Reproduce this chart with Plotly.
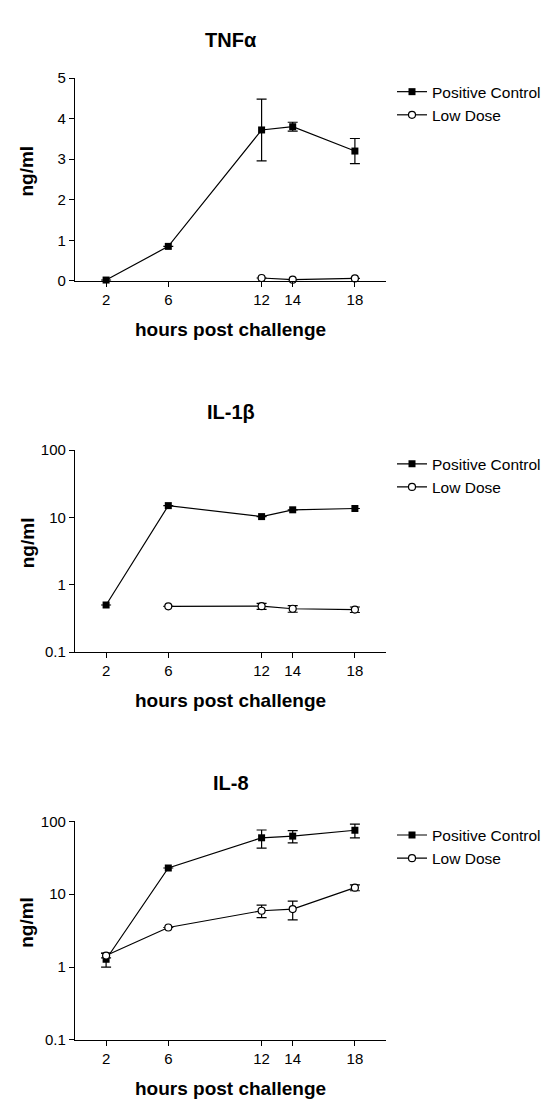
import plotly.graph_objects as go

# ---------------- data ----------------
hours_ticks = [2, 6, 12, 14, 18]

tnf_pc_x = [2, 6, 12, 14, 18]
tnf_pc_y = [0.02, 0.85, 3.72, 3.80, 3.20]
tnf_pc_err = [0.0, 0.0, 0.76, 0.11, 0.31]
tnf_ld_x = [12, 14, 18]
tnf_ld_y = [0.07, 0.03, 0.06]
tnf_ld_err = [0.0, 0.0, 0.0]

il1_pc_x = [2, 6, 12, 14, 18]
il1_pc_y = [0.50, 15.0, 10.3, 13.0, 13.6]
il1_pc_err = [0.0, 0.0, 0.0, 0.0, 0.0]
il1_ld_x = [6, 12, 14, 18]
il1_ld_y = [0.477, 0.48, 0.44, 0.427]
il1_ld_err = [0.0, 0.05, 0.05, 0.04]

il8_pc_x = [2, 6, 12, 14, 18]
il8_pc_y = [1.28, 22.9, 59.5, 62.7, 75.5]
il8_pc_err = [0.28, 0.0, 16.6, 12.0, 16.0]
il8_ld_x = [2, 6, 12, 14, 18]
il8_ld_y = [1.44, 3.49, 5.93, 6.25, 12.3]
il8_ld_err = [0.1, 0.0, 1.15, 1.8, 1.15]

titles = ["TNFα", "IL-1β", "IL-8"]
series_names = ["Positive Control", "Low Dose"]
y_title = "ng/ml"
x_title = "hours post challenge"

# ---------------- layout helpers ----------------
W, H = 551, 1099
FONT = "Liberation Sans, Arial, sans-serif"

def py(p):  # pixel from top -> paper y
    return 1 - p / H

def px(p):
    return p / W

x_left, x_right = 67, 378
panels = [  # (top px, bottom px)
    (62, 268),
    (440, 645),
    (817, 1039),
]

panel_data = [
    (tnf_pc_x, tnf_pc_y, tnf_pc_err, tnf_ld_x, tnf_ld_y, tnf_ld_err),
    (il1_pc_x, il1_pc_y, il1_pc_err, il1_ld_x, il1_ld_y, il1_ld_err),
    (il8_pc_x, il8_pc_y, il8_pc_err, il8_ld_x, il8_ld_y, il8_ld_err),
]

fig = go.Figure()

for i, (pcx, pcy, pce, ldx, ldy, lde) in enumerate(panel_data):
    n = i + 1
    xa = "x" if n == 1 else f"x{n}"
    ya = "y" if n == 1 else f"y{n}"
    lg = "legend" if n == 1 else f"legend{n}"
    fig.add_trace(go.Scatter(
        x=pcx, y=pcy, name=series_names[0], mode="lines+markers",
        xaxis=xa, yaxis=ya, legend=lg, cliponaxis=False,
        line=dict(color="black", width=1.2),
        marker=dict(symbol="square", size=7, color="black"),
        error_y=dict(type="data", array=pce, visible=True, color="black",
                     thickness=1.2, width=5),
    ))
    fig.add_trace(go.Scatter(
        x=ldx, y=ldy, name=series_names[1], mode="lines+markers",
        xaxis=xa, yaxis=ya, legend=lg, cliponaxis=False,
        line=dict(color="black", width=1.2),
        marker=dict(symbol="circle", size=7, color="white",
                    line=dict(color="black", width=1.2)),
        error_y=dict(type="data", array=lde, visible=True, color="black",
                     thickness=1.2, width=5),
    ))

axis_common = dict(
    showline=True, linecolor="black", linewidth=1.3,
    ticks="outside", ticklen=5, tickwidth=1.2, tickcolor="black",
    showgrid=False, zeroline=False,
    tickfont=dict(family=FONT, size=15, color="black"),
)

layout = dict(
    width=W, height=H, margin=dict(l=0, r=0, t=0, b=0),
    paper_bgcolor="white", plot_bgcolor="white",
    font=dict(family=FONT, color="black"),
    showlegend=True,
)

annotations = []
for i, (top, bot) in enumerate(panels):
    n = i + 1
    xk = "xaxis" if n == 1 else f"xaxis{n}"
    yk = "yaxis" if n == 1 else f"yaxis{n}"
    lk = "legend" if n == 1 else f"legend{n}"
    layout[xk] = dict(
        domain=[px(x_left), px(x_right)], range=[0, 20],
        tickvals=hours_ticks, ticktext=[str(h) for h in hours_ticks],
        anchor="y" if n == 1 else f"y{n}",
        **axis_common,
    )
    ydom = [py(bot), py(top)]
    if n == 1:
        layout[yk] = dict(domain=ydom, range=[0, 5], tickvals=[0, 1, 2, 3, 4, 5],
                          anchor="x", **axis_common)
    else:
        layout[yk] = dict(domain=ydom, type="log", range=[-1, 2],
                          tickvals=[0.1, 1, 10, 100],
                          ticktext=["0.1", "1", "10", "100"],
                          anchor=f"x{n}", **axis_common)
    layout[lk] = dict(
        x=px(384), xanchor="left", y=py(top - 3), yanchor="top",
        bgcolor="rgba(0,0,0,0)", borderwidth=0,
        font=dict(family=FONT, size=15.5, color="black"),
        itemwidth=30, tracegroupgap=0,
    )
    cx = px((x_left + x_right) / 2)
    annotations.append(dict(
        text=f"<b>{titles[i]}</b>", x=cx, y=py(top - 39), xref="paper", yref="paper",
        showarrow=False, xanchor="center", yanchor="middle",
        font=dict(family=FONT, size=20, color="black"),
    ))
    annotations.append(dict(
        text=f"<b>{x_title}</b>", x=cx, y=py(bot + 49), xref="paper", yref="paper",
        showarrow=False, xanchor="center", yanchor="middle",
        font=dict(family=FONT, size=19, color="black"),
    ))
    annotations.append(dict(
        text=f"<b>{y_title}</b>", x=px(19), y=py((top + bot) / 2 - 8),
        xref="paper", yref="paper", textangle=-90,
        showarrow=False, xanchor="center", yanchor="middle",
        font=dict(family=FONT, size=19, color="black"),
    ))

layout["annotations"] = annotations
fig.update_layout(**layout)
fig.write_html("out.html")
